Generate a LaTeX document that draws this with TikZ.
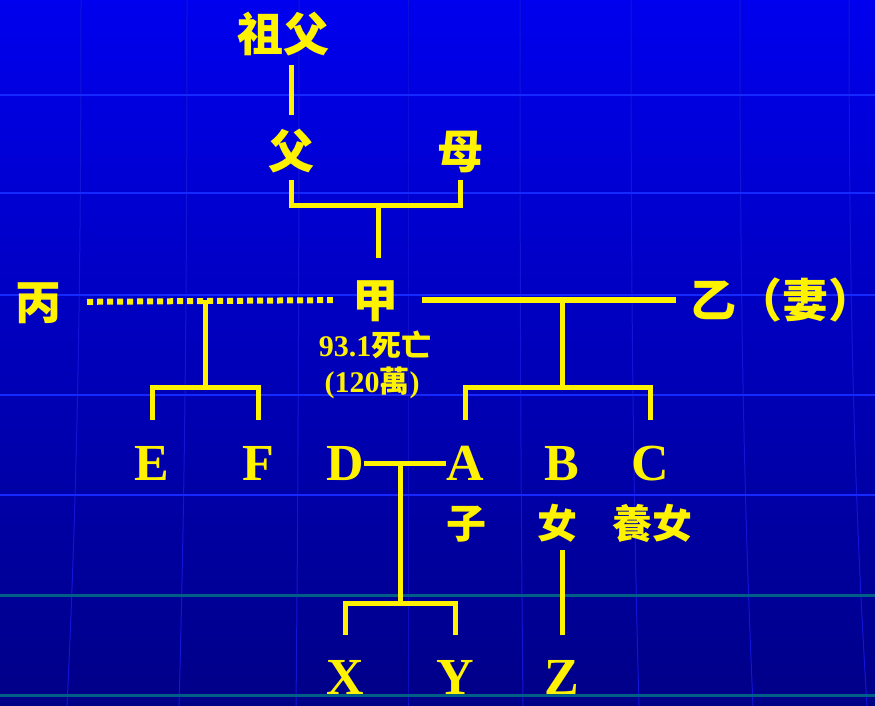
\documentclass[tikz,border=0pt]{standalone}
\usepackage{fontspec}
\setmainfont{Liberation Serif}
\newfontfamily\cjk{Noto Sans CJK TC}

\definecolor{bgtop}{RGB}{0,0,238}
\definecolor{bgbot}{RGB}{0,0,135}
\definecolor{gridblue}{RGB}{20,40,255}
\definecolor{gridteal}{RGB}{0,95,135}
\definecolor{meridian}{RGB}{20,20,215}

\begin{document}
\begin{tikzpicture}[x=1pt,y=-1pt,
    person/.style={text=yellow, inner sep=0pt, text height=40.5pt, text depth=5.5pt,
      font=\cjk\bfseries\fontsize{46}{46}\selectfont},
    small/.style={person, text height=35.2pt, text depth=4.8pt,
      font=\cjk\bfseries\fontsize{40}{40}\selectfont},
    letter/.style={text=yellow, inner sep=0pt, text height=34.3pt, text depth=0pt,
      font=\bfseries\fontsize{52}{52}\selectfont},
    note/.style={text=yellow, inner sep=0pt, font=\bfseries\fontsize{30}{30}\selectfont},
    kin/.style={draw=yellow, line width=5pt, line join=miter},
    stepkin/.style={kin, dash pattern=on 6pt off 4pt, line width=6pt}]

    % background
    \useasboundingbox (0,0) rectangle (875,706);
    \shade[top color=bgtop, bottom color=bgbot] (0,0) rectangle (875,706);
    \foreach \gx/\bend in {81/-14,187/-8,299/-3,408/0,520/3,631/8,740/13,849/18}
        \draw[meridian, line width=1pt] (\gx,0) .. controls (\gx,300) and (\gx+\bend*0.3,500) .. (\gx+\bend,706);
    \foreach \gy in {95,193,295,395,495}
        \draw[gridblue, line width=2pt] (0,\gy) -- (875,\gy);
    \foreach \gy in {595,695}
        \draw[gridteal, line width=3pt] (0,\gy) -- (875,\gy);

    % people
    \node[person] (zufu) at (283,34) {祖父};
    \node[person] (fu) at (291,151) {父};
    \node[person] (mu) at (460,151) {母};
    \node[person] (jia) at (375,300) {甲};
    \node[person] (bing) at (38,302) {丙};
    \node[person] (yi) at (782,300) {乙（妻）};
    \node[note] (death) at (375,345) {93.1{\cjk 死亡}};
    \node[note] (estate) at (372,383) {(120{\cjk 萬})};

    \node[letter] (E) at (152,463) {E};
    \node[letter] (F) at (258,463) {F};
    \node[letter] (D) at (345,463) {D};
    \node[letter] (A) at (465,463) {A};
    \node[letter] (B) at (562,463) {B};
    \node[letter] (C) at (650,463) {C};
    \node[small] (zi) at (466,523) {子};
    \node[small] (nv) at (557,523) {女};
    \node[small] (yang) at (652,523) {養女};

    \node[letter] (X) at (345,677) {X};
    \node[letter] (Y) at (455,677) {Y};
    \node[letter] (Z) at (562,677) {Z};

    % junctions
    \coordinate (fm) at (378,205);
    \coordinate (bj) at (205,300);
    \coordinate (ef) at (205,387);
    \coordinate (jy) at (562,300);
    \coordinate (abc) at (562,387);
    \coordinate (da) at (400,463);
    \coordinate (xy) at (400,603);

    % lines
    \draw[kin, shorten <=8pt, shorten >=13pt] (zufu.south -| fu) -- (fu.north);
    \draw[kin, shorten <=6pt, shorten >=6pt] (fu.south) -- (fu.south |- fm) -- (mu.south |- fm) -- (mu.south);
    \draw[kin, shorten >=19pt] (fm) -- (fm |- jia.north);
    \draw[stepkin, shorten <=26pt, shorten >=19pt] (bing.east) -- (jia.west);
    \draw[kin, line width=6pt, shorten <=24pt, shorten >=14pt] (jia.east) -- (yi.west);

    \draw[kin] (bj) -- (ef);
    \draw[kin, shorten <=26pt, shorten >=26pt] (E.north) -- (E.north |- ef) -- (F.north |- ef) -- (F.north);
    \draw[kin] (jy) -- (abc);
    \draw[kin, shorten <=26pt, shorten >=26pt] (A.north) -- (A.north |- abc) -- (C.north |- abc) -- (C.north);

    \draw[kin] (D.east) -- (A.west);
    \draw[kin] (da) -- (xy);
    \draw[kin, shorten <=25pt, shorten >=25pt] (X.north) -- (X.north |- xy) -- (Y.north |- xy) -- (Y.north);
    \draw[kin, shorten <=7pt, shorten >=25pt] (nv.south -| Z) -- (Z.north);
\end{tikzpicture}
\end{document}
